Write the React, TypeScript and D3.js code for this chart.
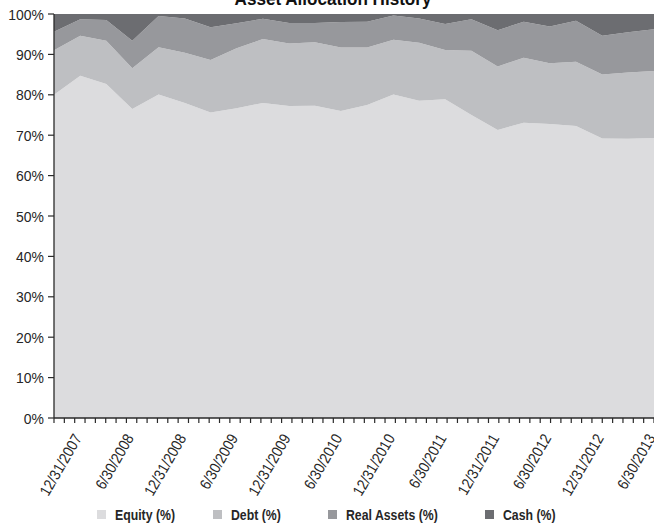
import React from "react";
import * as d3 from "d3";

// Quarter-end dates (M/D/YYYY)
const quarters = [
  "9/30/2007", "12/31/2007", "3/31/2008", "6/30/2008", "9/30/2008", "12/31/2008",
  "3/31/2009", "6/30/2009", "9/30/2009", "12/31/2009", "3/31/2010", "6/30/2010",
  "9/30/2010", "12/31/2010", "3/31/2011", "6/30/2011", "9/30/2011", "12/31/2011",
  "3/31/2012", "6/30/2012", "9/30/2012", "12/31/2012", "3/31/2013", "6/30/2013",
];

const equity = [
  80.0, 84.7, 82.7, 76.5, 80.1, 78.0, 75.6, 76.7, 78.0, 77.2, 77.3, 76.0,
  77.5, 80.1, 78.5, 78.9, 75.0, 71.3, 73.1, 72.8, 72.3, 69.2, 69.1, 69.3,
];
const debt = [
  11.0, 9.9, 10.7, 10.1, 11.7, 12.4, 13.0, 14.8, 15.8, 15.5, 15.7, 15.7,
  14.2, 13.5, 14.4, 12.2, 15.9, 15.7, 16.1, 15.0, 15.9, 15.8, 16.4, 16.6,
];
const realAssets = [
  4.6, 4.1, 5.1, 6.8, 7.7, 8.5, 8.1, 6.2, 5.0, 5.1, 4.8, 6.3,
  6.4, 6.0, 6.0, 6.4, 7.8, 9.0, 8.9, 9.1, 10.1, 9.6, 10.0, 10.3,
];
const cash = [
  4.4, 1.3, 1.5, 6.6, 0.5, 1.1, 3.3, 2.3, 1.2, 2.2, 2.2, 2.0,
  1.9, 0.4, 1.1, 2.5, 1.3, 4.0, 1.9, 3.1, 1.7, 5.4, 4.5, 3.8,
];

const seriesNames = ["Equity (%)", "Debt (%)", "Real Assets (%)", "Cash (%)"];
const seriesKeys = ["equity", "debt", "realAssets", "cash"];
const seriesColors = ["#dcdcde", "#bebfc2", "#97989c", "#6c6d71"];

const xLabels = [
  "12/31/2007", "6/30/2008", "12/31/2008", "6/30/2009", "12/31/2009", "6/30/2010",
  "12/31/2010", "6/30/2011", "12/31/2011", "6/30/2012", "12/31/2012", "6/30/2013",
];
const yTicks = [0, 10, 20, 30, 40, 50, 60, 70, 80, 90, 100];

const parseDate = d3.timeParse("%m/%d/%Y");
const FONT = "'Liberation Sans', Arial, sans-serif";
const TEXT_COLOR = "#262626";

export default function App() {
  const width = 654;
  const height = 523;
  const left = 54;
  const right = 654;
  const top = 14;
  const bottom = 418;

  const dates = quarters.map((q) => parseDate(q) as Date);
  const rows = dates.map((d, i) => ({
    date: d,
    equity: equity[i],
    debt: debt[i],
    realAssets: realAssets[i],
    cash: cash[i],
  }));

  const x = d3
    .scaleTime()
    .domain([dates[0], dates[dates.length - 1]])
    .range([left, right]);
  const y = d3.scaleLinear().domain([0, 100]).range([bottom, top]);

  const stacked = d3.stack<any>().keys(seriesKeys)(rows);
  const area = d3
    .area<any>()
    .x((d) => x(d.data.date))
    .y0((d) => y(d[0]))
    .y1((d) => y(d[1]));

  // minor ticks split the date span into equal steps
  const minorSteps = 58;
  const t0 = x.domain()[0].getTime();
  const span = x.domain()[1].getTime() - t0;
  const minorTicks = d3
    .range(minorSteps + 1)
    .map((k) => new Date(t0 + (span * k) / minorSteps));

  const legendX = [97, 213, 328, 485];
  const axisColor = "#2a2a2a";

  return (
    <svg
      width={width}
      height={height}
      style={{ position: "absolute", left: 0, top: 0, background: "#fff" }}
      fontFamily={FONT}
    >
      <defs>
        <clipPath id="plotClip">
          <rect x={left} y={top} width={right - left} height={bottom - top} />
        </clipPath>
      </defs>

      <g transform="translate(333,5) scale(0.9,1)">
        <text textAnchor="middle" fontWeight="bold" fontSize={19} fill="#111">
          Asset Allocation History
        </text>
      </g>

      <g clipPath="url(#plotClip)">
        {stacked.map((s, i) => (
          <path key={seriesKeys[i]} d={area(s) || ""} fill={seriesColors[i]} />
        ))}
      </g>

      {/* y axis */}
      <line x1={left} x2={left} y1={top} y2={bottom} stroke={axisColor} strokeWidth={1.3} />
      {yTicks.map((t) => (
        <g key={t}>
          <line x1={left - 6} x2={left} y1={y(t)} y2={y(t)} stroke={axisColor} strokeWidth={1.2} />
          <g transform={`translate(${left - 10},${y(t)}) scale(0.9,1)`}>
            <text dy="0.36em" textAnchor="end" fontSize={15.5} fill={TEXT_COLOR}>
              {t}%
            </text>
          </g>
        </g>
      ))}

      {/* x axis */}
      <line x1={left} x2={right} y1={bottom} y2={bottom} stroke={axisColor} strokeWidth={1.3} />
      {minorTicks.map((d, k) => (
        <line
          key={k}
          x1={x(d)}
          x2={x(d)}
          y1={bottom}
          y2={bottom + 5}
          stroke={axisColor}
          strokeWidth={1.2}
        />
      ))}
      {xLabels.map((lab) => {
        const xp = x(parseDate(lab) as Date);
        return (
          <text
            key={lab}
            transform={`translate(${xp + 2},${bottom + 20}) rotate(-60) scale(0.88,1)`}
            textAnchor="end"
            fontSize={15.5}
            fill={TEXT_COLOR}
          >
            {lab}
          </text>
        );
      })}

      {/* legend */}
      {seriesNames.map((name, i) => (
        <g key={name}>
          <rect x={legendX[i]} y={510} width={9} height={9} fill={seriesColors[i]} />
          <g transform={`translate(${legendX[i] + 18},520) scale(0.82,1)`}>
            <text fontSize={15} fontWeight="bold" fill={TEXT_COLOR}>
              {name}
            </text>
          </g>
        </g>
      ))}
    </svg>
  );
}
